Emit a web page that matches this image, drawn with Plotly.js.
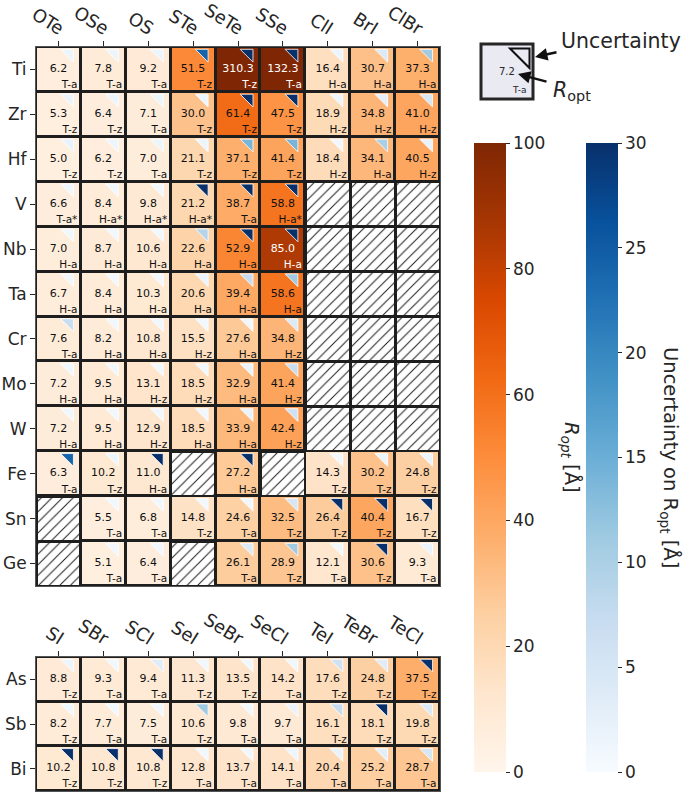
<!DOCTYPE html>
<html><head><meta charset="utf-8">
<script src="https://cdn.plot.ly/plotly-3.0.1.min.js"></script>
<style>html,body{margin:0;padding:0;background:#fff}</style>
</head><body><div id="chart" style="width:685px;height:792px"></div>
<script>
// ---------------- data ----------------
const topRows = ['Ti','Zr','Hf','V','Nb','Ta','Cr','Mo','W','Fe','Sn','Ge'];
const topCols = ['OTe','OSe','OS','STe','SeTe','SSe','ClI','BrI','ClBr'];
const topRopt = [
 [6.2,7.8,9.2,51.5,310.3,132.3,16.4,30.7,37.3],
 [5.3,6.4,7.1,30.0,61.4,47.5,18.9,34.8,41.0],
 [5.0,6.2,7.0,21.1,37.1,41.4,18.4,34.1,40.5],
 [6.6,8.4,9.8,21.2,38.7,58.8,null,null,null],
 [7.0,8.7,10.6,22.6,52.9,85.0,null,null,null],
 [6.7,8.4,10.3,20.6,39.4,58.6,null,null,null],
 [7.6,8.2,10.8,15.5,27.6,34.8,null,null,null],
 [7.2,9.5,13.1,18.5,32.9,41.4,null,null,null],
 [7.2,9.5,12.9,18.5,33.9,42.4,null,null,null],
 [6.3,10.2,11.0,null,27.2,null,14.3,30.2,24.8],
 [null,5.5,6.8,14.8,24.6,32.5,26.4,40.4,16.7],
 [null,5.1,6.4,null,26.1,28.9,12.1,30.6,9.3]
];
const topUnc = [
 [1.5,1.5,1.5,24,30,30,1.5,4,11],
 [1.5,1.5,1.5,1.5,30,30,1.5,2.5,5],
 [2,1.5,1.5,1.5,14,14,1,10,2],
 [1,1,1,30,30,30,null,null,null],
 [1,1,1,9,30,30,null,null,null],
 [1,1,1,2,7.5,11,null,null,null],
 [7,1,1,1,1,4,null,null,null],
 [1,1,1,1,2,7,null,null,null],
 [1,1,1,1,2,6,null,null,null],
 [24,1.5,30,null,30,null,1,1.5,1.5],
 [null,1,1,1,1,5,30,30,30],
 [null,1,1,null,4,11,1,30,2]
];
const topPhase = [
 ['T-a','T-a','T-a','T-z','T-z','T-a','H-a','H-a','H-a'],
 ['T-z','T-z','T-a','T-z','T-z','T-z','H-z','H-z','H-z'],
 ['T-z','T-z','T-a','T-z','T-z','T-z','H-z','H-a','H-z'],
 ['T-a*','H-a*','H-a*','H-a*','T-a','H-a*',null,null,null],
 ['H-a','H-a','H-a','H-a','H-a','H-a',null,null,null],
 ['H-a','H-a','H-a','H-a','H-a','H-a',null,null,null],
 ['T-a','H-a','H-a','H-z','H-a','H-z',null,null,null],
 ['H-a','H-a','H-z','H-z','H-a','H-z',null,null,null],
 ['H-a','H-a','H-z','H-a','H-a','H-z',null,null,null],
 ['T-a','T-z','H-a',null,'H-a',null,'T-z','T-z','T-z'],
 [null,'T-a','T-a','T-z','T-a','T-z','T-z','T-z','T-z'],
 [null,'T-a','T-a',null,'T-a','T-z','T-a','T-z','T-a']
];
const botRows = ['As','Sb','Bi'];
const botCols = ['SI','SBr','SCl','SeI','SeBr','SeCl','TeI','TeBr','TeCl'];
const botRopt = [
 [8.8,9.3,9.4,11.3,13.5,14.2,17.6,24.8,37.5],
 [8.2,7.7,7.5,10.6,9.8,9.7,16.1,18.1,19.8],
 [10.2,10.8,10.8,12.8,13.7,14.1,20.4,25.2,28.7]
];
const botUnc = [
 [1.5,1,3.5,1,1,1,6,3.5,30],
 [1,1,1,11,1,2,7.5,30,4],
 [30,30,30,1,1,1.5,2,3,5]
];
const botPhase = [
 ['T-z','T-a','T-a','T-z','T-z','T-a','T-z','T-z','T-z'],
 ['T-z','T-a','T-a','T-z','T-a','T-a','T-z','T-z','T-z'],
 ['T-z','T-z','T-z','T-a','T-a','T-a','T-a','T-a','T-a']
];
const roptTicks = [0,20,40,60,80,100];
const uncTicks = [0,5,10,15,20,25,30];

// ---------------- styling ----------------
const W = 685, H = 792;
const px = x => x / W, py = y => 1 - y / H;
const FONT = 'DejaVu Sans, Verdana, sans-serif';
const INK = '#262626';
const CELL = 44.9;              // pixels per cell
const GAP = 3;                  // dark gap between cells (px)
const oranges = [[0,'#fff5eb'],[0.125,'#fee6ce'],[0.25,'#fdd0a2'],[0.375,'#fdae6b'],[0.5,'#fd8d3c'],[0.625,'#f16913'],[0.75,'#d94801'],[0.875,'#a63603'],[1,'#7f2704']];
const blues = [[0,'#f7fbff'],[0.125,'#deebf7'],[0.25,'#c6dbef'],[0.375,'#9ecae1'],[0.5,'#6baed6'],[0.625,'#4292c6'],[0.75,'#2171b5'],[0.875,'#08519c'],[1,'#08306b']];

const TRI_SIZE = 14.2;   // marker size -> leg = 0.9*size
const triR = TRI_SIZE / 2;
const triDx = 0.5 - (3.2 + 1.2 * triR) / CELL;
const triDy = -0.5 + (2.3 + 0.6 * triR) / CELL;

function grid(rows, cols, ropt, unc, phase, xa, ya, scales) {
  const traces = [];
  const xi = cols.map((c, i) => i), yi = rows.map((r, j) => j);
  traces.push({
    type: 'heatmap', x: xi, y: yi, z: ropt, xaxis: xa, yaxis: ya,
    zmin: 0, zmax: 100, colorscale: oranges, xgap: GAP, ygap: GAP,
    hoverinfo: 'skip', showscale: scales,
    colorbar: {x: px(474), xanchor: 'left', y: py(143), yanchor: 'top',
      len: 629, lenmode: 'pixels', thickness: 32, thicknessmode: 'pixels',
      xpad: 0, ypad: 0, outlinewidth: 0, tickmode: 'array', tickvals: roptTicks,
      ticks: 'outside', ticklen: 4, tickwidth: 1, tickcolor: INK,
      tickfont: {family: FONT, size: 17, color: INK}}
  });
  // hatched (missing) cells
  const hx = [], hbase = [];
  ropt.forEach((row, j) => row.forEach((v, i) => { if (v === null) { hx.push(i); hbase.push(j - 0.5 + GAP / 2 / CELL); } }));
  if (hx.length) {
    traces.push({
      type: 'bar', x: hx, y: hx.map(() => 1 - GAP / CELL), base: hbase,
      width: 1 - GAP / CELL, xaxis: xa, yaxis: ya, hoverinfo: 'skip', showlegend: false,
      marker: {color: 'white', line: {width: 0},
        pattern: {shape: '/', fgcolor: '#1a1a1a', bgcolor: 'white', size: 7.5, solidity: 0.13}}
    });
  }
  // uncertainty triangles
  const tx = [], ty = [], tc = [];
  unc.forEach((row, j) => row.forEach((u, i) => { if (u !== null) { tx.push(i + triDx); ty.push(j + triDy); tc.push(u); } }));
  traces.push({
    type: 'scatter', mode: 'markers', x: tx, y: ty, xaxis: xa, yaxis: ya, hoverinfo: 'skip', showlegend: false,
    marker: {symbol: 'triangle-ne', size: TRI_SIZE, color: tc, cmin: 0, cmax: 30, colorscale: blues,
      line: {color: 'white', width: 0.8}, showscale: scales,
      colorbar: {x: px(586), xanchor: 'left', y: py(143), yanchor: 'top',
        len: 629, lenmode: 'pixels', thickness: 32, thicknessmode: 'pixels',
        xpad: 0, ypad: 0, outlinewidth: 0, tickmode: 'array', tickvals: uncTicks,
        ticks: 'outside', ticklen: 4, tickwidth: 1, tickcolor: INK,
        tickfont: {family: FONT, size: 17, color: INK}}}
  });
  // value text and phase label
  const vx = [], vy = [], vt = [], vc = [];
  const lx = [], ly = [], lt = [], lc = [];
  ropt.forEach((row, j) => row.forEach((v, i) => {
    if (v === null) return;
    const col = v > 75 ? 'white' : '#111';
    vx.push(i); vy.push(j); vt.push(v.toFixed(1)); vc.push(col);
    lx.push(i + 0.5 - 3.5 / CELL); ly.push(j + 0.5 - 1 / CELL); lt.push(phase[j][i]); lc.push(col);
  }));
  traces.push({type: 'scatter', mode: 'text', x: vx, y: vy, text: vt, xaxis: xa, yaxis: ya,
    textposition: 'middle center', textfont: {family: FONT, size: 11, color: vc}, hoverinfo: 'skip', showlegend: false});
  traces.push({type: 'scatter', mode: 'text', x: lx, y: ly, text: lt, xaxis: xa, yaxis: ya,
    textposition: 'top left', textfont: {family: FONT, size: 10.5, color: lc}, hoverinfo: 'skip', showlegend: false});
  return traces;
}

const data = [].concat(
  grid(topRows, topCols, topRopt, topUnc, topPhase, 'x', 'y', true),
  grid(botRows, botCols, botRopt, botUnc, botPhase, 'x2', 'y2', false)
);

function xax(cols, anchor) {
  return {domain: [px(36), px(440)], range: [-0.5, cols.length - 0.5], anchor: anchor, side: 'top',
    tickmode: 'array', tickvals: cols.map((c, i) => i), ticktext: cols, tickangle: 32,
    ticks: 'outside', ticklen: 5, tickwidth: 1, tickcolor: INK, ticklabelstandoff: -3, ticklabelshift: 5,
    tickfont: {family: FONT, size: 18, color: INK},
    showgrid: false, zeroline: false, showline: true, mirror: true, linecolor: '#555', linewidth: 1, fixedrange: true};
}
function yax(rows, anchor, top, bottom) {
  return {domain: [py(bottom), py(top)], range: [rows.length - 0.5, -0.5], anchor: anchor,
    tickmode: 'array', tickvals: rows.map((r, j) => j), ticktext: rows,
    ticks: 'outside', ticklen: 5, tickwidth: 1, tickcolor: INK,
    tickfont: {family: FONT, size: 17, color: INK},
    showgrid: false, zeroline: false, showline: true, mirror: true, linecolor: '#555', linewidth: 1, fixedrange: true};
}

function note(x, y, text, size, extra) {
  return Object.assign({xref: 'paper', yref: 'paper', x: px(x), y: py(y), text: text, showarrow: false,
    xanchor: 'center', yanchor: 'middle', font: {family: FONT, size: size, color: INK}}, extra || {});
}

const layout = {
  width: W, height: H,
  margin: {l: 0, r: 0, t: 0, b: 0, pad: 0, autoexpand: false},
  paper_bgcolor: 'white', plot_bgcolor: '#1e1e1e',
  showlegend: false, bargap: 0,
  font: {family: FONT, color: INK},
  xaxis: xax(topCols, 'y'), yaxis: yax(topRows, 'x', 47, 586),
  xaxis2: xax(botCols, 'y2'), yaxis2: yax(botRows, 'x2', 657, 791),
  shapes: [
    {type: 'rect', xref: 'paper', yref: 'paper', x0: px(481), x1: px(533), y0: py(99), y1: py(44),
      fillcolor: '#eaeaf2', line: {color: INK, width: 3}},
    {type: 'path', xref: 'paper', yref: 'paper',
      path: 'M' + px(510) + ',' + py(48.5) + ' L' + px(529.5) + ',' + py(48.5) + ' L' + px(529.5) + ',' + py(68) + ' Z',
      fillcolor: 'rgba(0,0,0,0)', line: {color: '#111', width: 2}}
  ],
  annotations: [
    note(507, 71, '7.2', 10),
    note(528, 90, 'T-a', 9, {xanchor: 'right'}),
    note(559, 41, 'Uncertainty', 20.5, {xanchor: 'left'}),
    note(551, 91, '<i>R</i><sub>opt</sub>', 20.5, {xanchor: 'left'}),
    {xref: 'paper', yref: 'paper', x: px(535), y: py(57), ax: 23, ay: -5, text: '', showarrow: true,
      arrowhead: 2, arrowsize: 1, arrowwidth: 2.5, arrowcolor: '#111', standoff: 0},
    {xref: 'paper', yref: 'paper', x: px(518), y: py(74), ax: 30, ay: 8, text: '', showarrow: true,
      arrowhead: 2, arrowsize: 1, arrowwidth: 2.5, arrowcolor: '#111', standoff: 0},
    note(571, 457, '<i>R<sub>opt</sub></i> [Å]', 19.5, {textangle: 90}),
    note(670, 457, 'Uncertainty on R<sub>opt</sub> [Å]', 19.5, {textangle: 90})
  ]
};

Plotly.newPlot('chart', data, layout, {displayModeBar: false, staticPlot: true});
</script>
</body></html>
